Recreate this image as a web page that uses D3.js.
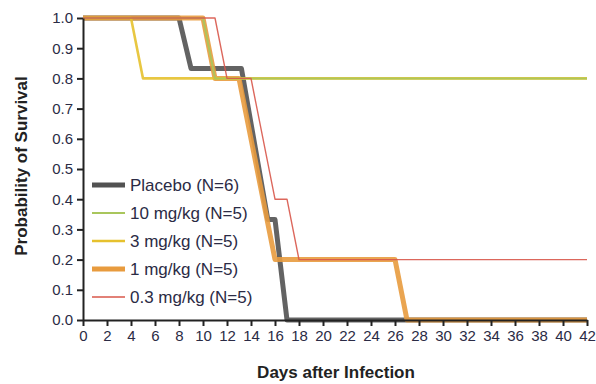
<!DOCTYPE html>
<html>
<head>
<meta charset="utf-8">
<script src="https://cdn.jsdelivr.net/npm/d3@7"></script>
<style>
  html, body { margin: 0; padding: 0; background: #fff; }
  svg text { font-family: "Liberation Sans", Arial, sans-serif; }
</style>
</head>
<body>
<svg id="chart" width="596" height="384"></svg>
<script>
// ---- data (days after infection, probability of survival) ----
const seriesNames = ["Placebo (N=6)", "10 mg/kg (N=5)", "3 mg/kg (N=5)", "1 mg/kg (N=5)", "0.3 mg/kg (N=5)"];

const placeboDays = [0, 8, 9, 13.2, 15.4, 16, 17, 42];
const placeboSurv = [1, 1, 0.833, 0.833, 0.333, 0.333, 0, 0];

const dose10Days = [0, 10, 11, 42];
const dose10Surv = [1, 1, 0.8, 0.8];

const dose3Days = [0, 4, 5, 42];
const dose3Surv = [1, 1, 0.8, 0.8];

const dose1Days = [0, 10, 11, 13, 16, 26, 27, 42];
const dose1Surv = [1, 1, 0.8, 0.8, 0.2, 0.2, 0, 0];

const dose03Days = [0, 11, 12, 14, 16, 17, 18, 42];
const dose03Surv = [1, 1, 0.8, 0.8, 0.4, 0.4, 0.2, 0.2];

const xTicks = d3.range(0, 43, 2);
const yTicks = [0, 0.1, 0.2, 0.3, 0.4, 0.5, 0.6, 0.7, 0.8, 0.9, 1.0];

// ---- styles ----
const styles = {
  "Placebo (N=6)":   { color: "#525252", width: 5 },
  "10 mg/kg (N=5)":  { color: "#a9c65c", width: 2 },
  "3 mg/kg (N=5)":   { color: "#e6c12e", width: 2.6 },
  "1 mg/kg (N=5)":   { color: "#e89b3e", width: 5 },
  "0.3 mg/kg (N=5)": { color: "#d8574a", width: 1.4 }
};

const series = [
  { name: seriesNames[0], days: placeboDays, surv: placeboSurv },
  { name: seriesNames[1], days: dose10Days, surv: dose10Surv },
  { name: seriesNames[2], days: dose3Days, surv: dose3Surv },
  { name: seriesNames[3], days: dose1Days, surv: dose1Surv },
  { name: seriesNames[4], days: dose03Days, surv: dose03Surv }
];

const svg = d3.select("#chart");
const x = d3.scaleLinear().domain([0, 42]).range([83, 587]);
const y = d3.scaleLinear().domain([0, 1]).range([320, 18]);

// draw order: placebo, 1 mg, 3 mg, 10 mg, 0.3 mg
const drawOrder = [0, 3, 2, 1, 4];
const line = d3.line().x(d => x(d[0])).y(d => y(d[1]));

drawOrder.forEach(i => {
  const s = series[i];
  const pts = s.days.map((d, k) => [d, s.surv[k]]);
  svg.append("path")
    .datum(pts)
    .attr("d", line)
    .attr("fill", "none")
    .attr("stroke", styles[s.name].color)
    .attr("stroke-width", styles[s.name].width)
    .attr("stroke-linejoin", "round")
    .attr("opacity", 0.9);
});

// axes
const xAxis = svg.append("g")
  .attr("transform", `translate(0,${y(0)})`)
  .call(d3.axisBottom(x).tickValues(xTicks).tickSize(6).tickPadding(4).tickSizeOuter(0));
const yAxis = svg.append("g")
  .attr("transform", `translate(${x(0)},0)`)
  .call(d3.axisLeft(y).tickValues(yTicks).tickFormat(d3.format(".1f")).tickSize(6).tickPadding(4).tickSizeOuter(0));

[xAxis, yAxis].forEach(g => {
  g.select(".domain").attr("stroke", "#222").attr("stroke-width", 2);
  g.selectAll(".tick line").attr("stroke", "#222").attr("stroke-width", 2);
  g.selectAll(".tick text")
    .attr("fill", "#2b2b45")
    .style("font-size", "15px")
    .style("font-family", "'Liberation Sans', Arial, sans-serif");
});

// axis titles
svg.append("text")
  .attr("x", 336).attr("y", 378)
  .attr("text-anchor", "middle")
  .style("font-size", "17px").style("font-weight", "bold")
  .attr("fill", "#222")
  .text("Days after Infection");

svg.append("text")
  .attr("transform", "translate(27,166) rotate(-90)")
  .attr("text-anchor", "middle")
  .style("font-size", "17px").style("font-weight", "bold")
  .attr("fill", "#222")
  .text("Probability of Survival");

// legend
const legend = svg.append("g");
seriesNames.forEach((name, i) => {
  const ly = 185 + i * 28;
  legend.append("line")
    .attr("x1", 92).attr("x2", 125)
    .attr("y1", ly).attr("y2", ly)
    .attr("stroke", styles[name].color)
    .attr("stroke-width", styles[name].width);
  legend.append("text")
    .attr("x", 130).attr("y", ly + 6)
    .style("font-size", "17px")
    .attr("fill", "#2b2b45")
    .text(name);
});
</script>
</body>
</html>
